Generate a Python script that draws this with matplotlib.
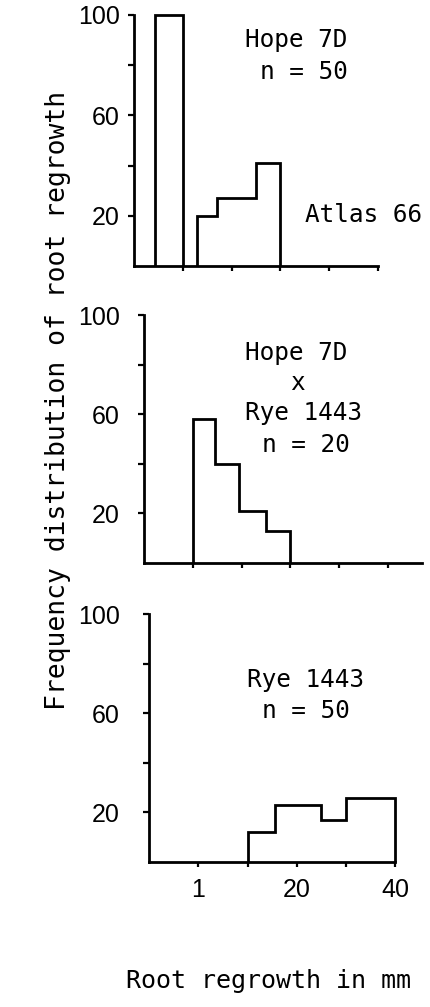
import matplotlib
matplotlib.use("Agg")
import matplotlib.pyplot as plt

W, H, DPI = 430, 1007, 100

# Root-regrowth classes along the x axis (class positions) and their labels
x_ticks = [1, 2, 3, 4, 5]
x_ticklabels = ["1", "", "20", "", "40"]
y_ticks = [20, 40, 60, 80, 100]
y_ticklabels = ["20", "", "60", "", "100"]

# Hope 7D: every plant in the lowest class
hope_edges = [0.43, 1.0]
hope_freq = [100]

# Atlas 66
atlas_edges = [1.3, 1.7, 2.5, 3.0]
atlas_freq = [20, 27, 41]

# Hope 7D x Rye 1443
cross_edges = [1.0, 1.45, 1.95, 2.5, 3.0]
cross_freq = [58, 40, 21, 13]

# Rye 1443
rye_edges = [2.0, 2.55, 3.5, 4.0, 5.0]
rye_freq = [12, 23, 17, 26]

MONO = "DejaVu Sans Mono"
SANS = "Liberation Sans"
LW = 2.0
TICK_PX = 6


def fx(px):
    return px / W


def fy(py):
    return 1 - py / H


fig = plt.figure(figsize=(W / DPI, H / DPI), dpi=DPI)
fig.patch.set_facecolor("white")

# panel geometry in pixels: y-axis x, px per class, x extent, baseline y, y of 100
panels = [
    dict(x0=134, ppu=48.75, xmax=5.0, y0=266, y100=15),
    dict(x0=144, ppu=48.75, xmax=5.7, y0=563, y100=315),
    dict(x0=149, ppu=49.25, xmax=5.0, y0=862, y100=614),
]
series = [
    [(hope_edges, hope_freq), (atlas_edges, atlas_freq)],
    [(cross_edges, cross_freq)],
    [(rye_edges, rye_freq)],
]

axes = []
for i, (p, ser) in enumerate(zip(panels, series)):
    ax = fig.add_axes([fx(p["x0"]), fy(p["y0"]),
                       p["xmax"] * p["ppu"] / W, (p["y0"] - p["y100"]) / H])
    ax.set_xlim(0, p["xmax"])
    ax.set_ylim(0, 100)
    for edges, freq in ser:
        ax.stairs(freq, edges, baseline=0, color="black", linewidth=LW,
                  clip_on=False)
    for s in ("top", "right"):
        ax.spines[s].set_visible(False)
    for s in ("left", "bottom"):
        ax.spines[s].set_linewidth(LW)
        ax.spines[s].set_capstyle("projecting")
    ax.set_xticks(x_ticks)
    ax.set_yticks(y_ticks)
    ax.set_yticklabels(y_ticklabels, fontsize=18, family=SANS)
    ypad = (p["x0"] - 120 - TICK_PX) * 0.72
    ax.tick_params(axis="y", direction="out", length=TICK_PX * 0.72,
                   width=LW * 0.8, pad=ypad)
    ax.tick_params(axis="x", direction="out", length=5 * 0.72,
                   width=LW * 0.8, pad=8)
    if i == 2:
        ax.set_xticklabels(x_ticklabels, fontsize=18, family=SANS)
    else:
        ax.set_xticklabels([])
    ax.patch.set_alpha(0)
    axes.append(ax)


def lines(items, size=17.6):
    for x, y, s in items:
        fig.text(fx(x), fy(y), s, ha="left", va="baseline",
                 fontsize=size, family=MONO)


lines([
    (245, 47, "Hope 7D"),
    (260, 79, "n = 50"),
    (305, 222, "Atlas 66"),
    (245, 360, "Hope 7D"),
    (290, 390, "x"),
    (245, 420, "Rye 1443"),
    (262, 452, "n = 20"),
    (247, 687, "Rye 1443"),
    (262, 718, "n = 50"),
])

fig.text(fx(58), fy(400), "Frequency distribution of root regrowth",
         rotation=90, ha="center", va="center", fontsize=19, family=MONO)
fig.text(fx(268), fy(988), "Root regrowth in mm", ha="center",
         va="baseline", fontsize=18, family=MONO)

fig.savefig("out.png", dpi=DPI, facecolor="white")
